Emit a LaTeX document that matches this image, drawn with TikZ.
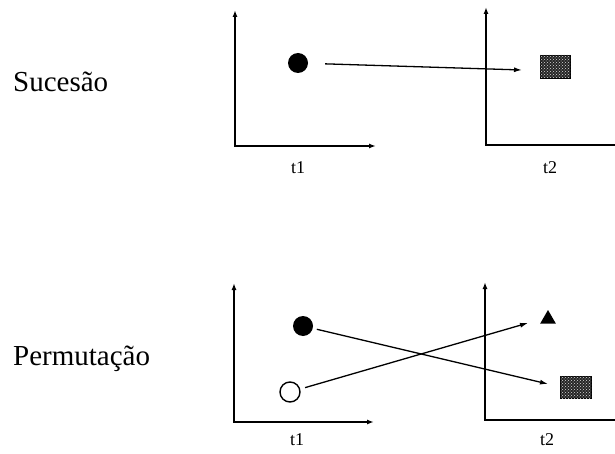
\documentclass[tikz,border=0pt]{standalone}
\usepackage{fontspec}
\setmainfont{Liberation Serif}
\usetikzlibrary{arrows.meta,shapes.geometric,patterns}
\tikzset{
  axis/.style={line width=1.6pt,{Latex[length=7pt,width=5pt]}-{Latex[length=7pt,width=5pt]}},
  conn/.style={line width=1.3pt,-{Latex[length=8pt,width=5pt]}},
  dot/.style={circle,minimum size=20pt,inner sep=0pt,fill=black},
  odot/.style={circle,minimum size=20pt,inner sep=0pt,draw=black,line width=1.4pt,fill=white},
  sq/.style={rectangle,inner sep=0pt,fill=black!85,draw=black,line width=0.8pt,
    postaction={pattern=crosshatch dots,pattern color=white!85!black}},
  tri/.style={regular polygon,regular polygon sides=3,minimum size=18pt,inner sep=0pt,fill=black},
  rowlabel/.style={font=\fontsize{29}{34}\selectfont,anchor=base west,inner sep=0pt},
  tlabel/.style={font=\fontsize{18}{20}\selectfont,inner sep=0pt}
}
\begin{document}
\begin{tikzpicture}[x=1pt,y=-1pt]
\useasboundingbox (0,0) rectangle (615,454);
% ---------- Sucesao ----------
\node[rowlabel] (lab1) at (13,92) {Sucesão};
\coordinate (ay1) at (235,10);
\coordinate (ao1) at (235,146);
\coordinate (ax1) at (376,146);
\draw[axis] (ay1) -- (ao1) -- (ax1);
\node[tlabel] (t1a) at (298,168) {t1};
\coordinate (ay2) at (486,7);
\coordinate (ao2) at (486,145);
\coordinate (ax2) at (615,145);
\draw[line width=1.6pt,{Latex[length=7pt,width=5pt]}-] (ay2) -- (ao2) -- (ax2);
\node[tlabel] (t2a) at (550,168) {t2};
\node[dot] (c1) at (298,63) {};
\node[sq,minimum width=30pt,minimum height=23pt] (s1) at (555,66.5) {};
\coordinate (e1) at (522,70);
\draw[conn,shorten <=17pt] (c1) -- (e1);
% ---------- Permutacao ----------
\node[rowlabel] (lab2) at (13,365) {Permutação};
\coordinate (by1) at (234,283);
\coordinate (bo1) at (234,422);
\coordinate (bx1) at (374,422);
\draw[axis] (by1) -- (bo1) -- (bx1);
\node[tlabel] (t1b) at (297,440) {t1};
\coordinate (by2) at (485,282);
\coordinate (bo2) at (485,420);
\coordinate (bx2) at (615,420);
\draw[line width=1.6pt,{Latex[length=7pt,width=5pt]}-] (by2) -- (bo2) -- (bx2);
\node[tlabel] (t2b) at (547,440) {t2};
\node[dot] (c2) at (303,326) {};
\node[odot] (c3) at (290,392) {};
\node[tri] (tr) at (548,319) {};
\node[sq,minimum width=31pt,minimum height=22pt] (s2) at (575.5,387) {};
\coordinate (e2) at (548,384);
\coordinate (e3) at (528,323);
\draw[conn,shorten <=4pt] (c2) -- (e2);
\draw[conn,shorten <=5pt] (c3) -- (e3);
\end{tikzpicture}
\end{document}
